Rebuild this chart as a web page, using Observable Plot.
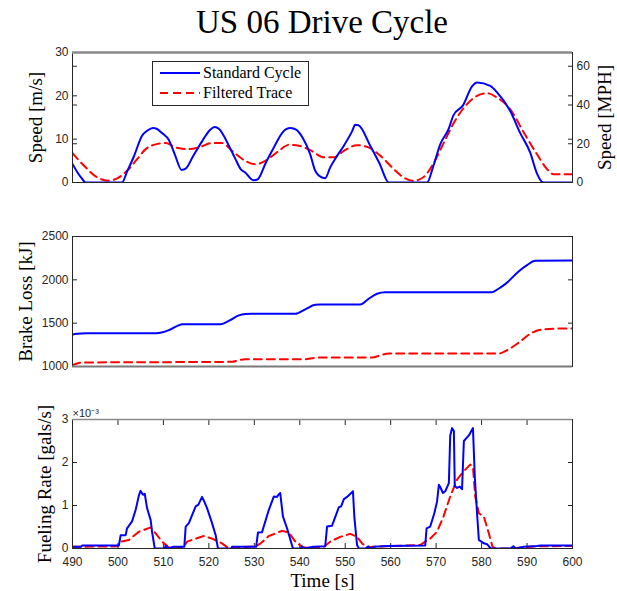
<!DOCTYPE html>
<html><head><meta charset="utf-8">
<script src="https://cdn.jsdelivr.net/npm/d3@7"></script>
<script src="https://cdn.jsdelivr.net/npm/@observablehq/plot@0.6"></script>
<style>
body{margin:0;background:#fff;}
#wrap{position:relative;width:617px;height:591px;overflow:hidden;background:#fff;}
#title{position:absolute;left:72px;top:3px;width:500px;text-align:center;font-family:"Liberation Serif",serif;font-size:33px;line-height:38px;color:#000;}
.panel{position:absolute;left:0;}
#legend{position:absolute;left:152px;top:61px;width:155px;height:43px;border:1px solid #262626;background:#fff;font-family:"Liberation Serif",serif;font-size:16px;color:#000;}
#legend .row{position:absolute;left:0;height:20px;line-height:20px;white-space:nowrap;}
#legend svg{position:absolute;left:7px;top:4px;}
#legend span{position:absolute;left:50px;top:0;}
</style></head><body>
<div id="wrap">
  <div id="title">US 06 Drive Cycle</div>
  <div id="p1" class="panel" style="top:44px"></div>
  <div id="p2" class="panel" style="top:228px"></div>
  <div id="p3" class="panel" style="top:399px"></div>
  <div id="legend"></div>
</div>
<script>
// ---------- data ----------
const seriesNames = ["Standard Cycle", "Filtered Trace"];
const speedStdTime = [490,491,492,492.9,500.9,502,503.5,505.3,506.5,507.7,508.5,509.7,511.2,512.5,514,514.9,516.5,518.5,520.3,521.3,522.2,524.4,525.8,527,528,529.3,529.9,530.8,532.5,534.5,536.1,537,538,539.2,540.6,542.3,543.4,544.9,545.6,546.7,548,549.7,551.5,552.2,552.9,555.5,557.5,559.6,568,569.3,570.9,572.8,573.8,575.9,577.9,579,581.9,583.4,586.3,588.5,590.7,592.1,593.6,600];
const speedStdVal  = [4.3,2.5,1.0,0,0,2.5,6,10.8,12.0,12.6,12.4,11.4,9.8,6.5,2.9,3.2,6,9.5,12.2,12.8,12.4,8.5,5.5,3.1,2.3,0.8,0.5,0.8,4.5,8.5,11.4,12.3,12.6,12.2,10.4,6.5,2.7,1.15,1.0,3.5,5.8,8.5,11.8,13.3,13.2,8.5,4.5,0,0,3.5,8.8,12.5,15.5,17.8,22.2,23.1,22.3,20.8,16.5,11.4,6.9,2.3,0,0];
const speedFltTime = [490,491.5,492.9,495.1,496.5,498,499,500.2,502.4,504.3,506.1,508.3,510.5,512.7,515.6,517.8,520.7,522.9,525.1,528,530.3,532.4,535.4,537.6,539.8,542.4,545.3,547.5,549.7,552.6,555.1,557.7,560.3,562.8,565,567.2,569.5,571.7,573.9,576.8,579,581.2,583.4,586.3,589.3,592.2,594.4,595.8,600];
const speedFltVal  = [6.8,5.0,3.5,1.4,0.7,0.4,0.6,1.2,3.1,5.5,7.7,8.8,9.1,8.1,7.7,8.1,9.1,9.1,7.3,5.0,4.2,5.0,7.3,8.7,8.5,7.4,5.8,5.8,7.3,8.6,8.1,6.2,3.5,1.2,0.4,1.2,4.6,9.2,13.8,18.1,20.0,20.6,19.6,16.9,11.5,6.5,3.1,1.9,1.9];

const brakeStdTime = [490,491,492.9,508.3,509.8,511.2,512.7,514.1,522.6,524.5,526.6,528,529.5,539,541.2,543.4,544.5,553.3,555,557,558.8,582.3,583.8,585.2,588.2,590,591.8,600];
const brakeStdVal  = [1369,1378,1385,1385,1395,1419,1460,1488,1488,1530,1590,1605,1608,1608,1660,1712,1715,1715,1775,1840,1858,1858,1900,1950,2100,2170,2220,2223];
const brakeFltTime = [490,492.1,525.1,526.5,528,541.3,544.2,555.9,557.8,559.6,583.8,586,588.2,591.1,594,597.7,600];
const brakeFltVal  = [1015,1046,1054,1072,1085,1085,1104,1104,1130,1150,1150,1200,1277,1390,1431,1438,1440];

const fuelStdTime = [490,491.9,492.1,500.2,500.6,501.7,502,503.1,503.9,504.6,504.96,505.5,505.9,506.4,507.2,507.5,508.1,510.3,510.5,510.8,512.3,514.6,514.9,515.6,517.1,517.7,518.5,519,519.6,520.7,521.5,522,525,525.1,530.4,530.8,531.7,533.2,534.3,535,535.3,535.7,536.3,537.2,538.5,540.2,540.5,540.8,543,545.6,546,547.1,548.6,549.1,549.7,550.4,551.7,552,552.6,553,554.4,555.1,555.5,556.3,559.2,567.6,567.9,568.7,569.6,570.2,570.6,570.9,571.5,572,572.8,573.1,573.5,573.9,574.1,574.6,575.2,575.7,576.1,577.2,578.1,578.5,579,579.4,580.5,581.2,582,586.3,587,587.5,589.3,592.2,593,600];
const fuelStdVal  = [0.04,0.04,0.07,0.07,0.31,0.31,0.47,0.63,0.9,1.23,1.34,1.25,1.27,0.94,0.66,0.39,0,0,0.07,0,0.04,0.04,0.51,0.59,0.98,1.02,1.2,1.09,0.94,0.59,0.31,0,0,0.04,0.04,0.37,0.38,0.9,1.21,1.2,1.25,1.29,0.74,0.47,0,0,0.05,0,0.04,0.05,0.51,0.53,0.96,0.98,1.15,1.2,1.33,0.74,0.08,0,0,0.05,0,0.04,0.06,0.07,0.47,0.51,0.82,1.09,1.48,1.43,1.29,1.33,1.52,2.62,2.8,2.73,1.45,1.41,1.44,1.38,2.5,2.63,2.8,1.68,0.82,0.2,0.12,0.1,0,0,0.05,0,0.04,0.06,0.07,0.07];
const fuelFltTime = [490,500,500.6,502.4,504.6,507.2,508.3,509.7,511.2,512.7,514.5,515.2,517.1,518.9,520.7,522.9,524.4,525.9,530.3,531.4,533.2,536.1,537.6,539,540.5,542,545.3,546.7,548.9,551.1,552.6,553.7,554.9,556,559.2,566.5,567.6,568.7,570.2,571.6,573.1,574.6,576.1,577.5,578.1,578.6,579.4,580.5,581.6,582.4,583.1,586.3,589.3,592.2,599.3,600];
const fuelFltVal  = [0.04,0.05,0.16,0.2,0.39,0.49,0.35,0.16,0.02,0,0.04,0.16,0.23,0.29,0.23,0.12,0,0.02,0.05,0.12,0.29,0.41,0.37,0.16,0.04,0,0.04,0.16,0.27,0.34,0.27,0.12,0.02,0.04,0.05,0.08,0.16,0.23,0.39,0.74,1.21,1.6,1.8,1.95,1.9,1.21,0.82,0.74,0.35,0.04,0,0,0.03,0.05,0.06,0.06];

const timeTicks  = [490,500,510,520,530,540,550,560,570,580,590,600];
const speedTicks = [0,10,20,30];
const mphTicks   = [0,20,40,60];
const brakeTicks = [1000,1500,2000,2500];
const fuelTicks  = [0,1,2,3];

// ---------- helpers ----------
const BLUE = "#0000ff", RED = "#ff0000", AX = "#262626";
const MPS_PER_MPH = 0.44704;
const zip = (ts, vs) => ts.map((t, i) => ({t, v: vs[i]}));
const W = 617, ML = 72, MR = 45;
const serif = "Liberation Serif";
const intFmt = d => String(Math.round(d));

function lines(std, flt, curve) {
  return [
    Plot.line(flt, {x: "t", y: "v", stroke: RED, strokeWidth: 2, strokeDasharray: "8,5", curve, clip: true}),
    Plot.line(std, {x: "t", y: "v", stroke: BLUE, strokeWidth: 2, curve, clip: true})
  ];
}
function yTicksBoth(ticks, labelSide, fmt = intFmt) {
  const other = labelSide === "left" ? "right" : "left";
  return [
    Plot.axisY(ticks, {anchor: labelSide, tickSize: -5, tickPadding: 9, tickFormat: fmt, label: null}),
    Plot.axisY(ticks, {anchor: other, tickSize: -5, tickFormat: () => "", label: null})
  ];
}
function yLabel(text, dx, side = "left") {
  return Plot.text([text], {frameAnchor: side, dx, rotate: -90, fontFamily: serif, fontSize: 19, fill: "#000", textAnchor: "middle", lineAnchor: "middle"});
}
const baseStyle = {fontFamily: "Liberation Sans", fontSize: "12px", color: AX, background: "transparent", overflow: "visible"};

// ---------- panel 1: speed ----------
const p1 = Plot.plot({
  width: W, height: 146, marginLeft: ML, marginRight: MR, marginTop: 8, marginBottom: 8,
  style: baseStyle,
  x: {domain: [490, 600], axis: null},
  y: {domain: [0, 30]},
  marks: [
    ...yTicksBoth(speedTicks, "left"),
    ...yTicksBoth(mphTicks.map(m => m * MPS_PER_MPH), "right", d => String(Math.round(d / MPS_PER_MPH))),
    ...lines(zip(speedStdTime, speedStdVal), zip(speedFltTime, speedFltVal), "monotone-x"),
    Plot.frame({stroke: AX}),
    Plot.ruleY([30], {stroke: "#8a8a8a", strokeWidth: 2.5}),
    yLabel("Speed [m/s]", -37),
    yLabel("Speed [MPH]", 32, "right")
  ]
});
document.getElementById("p1").append(p1);

// ---------- panel 2: brake loss ----------
const p2 = Plot.plot({
  width: W, height: 146, marginLeft: ML, marginRight: MR, marginTop: 8, marginBottom: 8,
  style: baseStyle,
  x: {domain: [490, 600], axis: null},
  y: {domain: [1000, 2500]},
  marks: [
    ...yTicksBoth(brakeTicks, "left"),
    ...lines(zip(brakeStdTime, brakeStdVal), zip(brakeFltTime, brakeFltVal), "monotone-x"),
    Plot.frame({stroke: AX}),
    Plot.ruleY([1000], {stroke: "#7a7a7a", strokeWidth: 2}),
    yLabel("Brake Loss [kJ]", -47)
  ]
});
document.getElementById("p2").append(p2);

// ---------- panel 3: fueling rate ----------
const p3 = Plot.plot({
  width: W, height: 189, marginLeft: ML, marginRight: MR, marginTop: 20, marginBottom: 40,
  style: baseStyle,
  x: {domain: [490, 600]},
  y: {domain: [0, 3]},
  marks: [
    ...yTicksBoth(fuelTicks, "left"),
    Plot.axisX(timeTicks, {anchor: "bottom", tickSize: -5, tickPadding: 14, tickFormat: intFmt, label: null}),
    Plot.axisX(timeTicks, {anchor: "top", tickSize: -5, tickFormat: () => "", label: null}),
    ...lines(zip(fuelStdTime, fuelStdVal), zip(fuelFltTime, fuelFltVal), "linear"),
    Plot.frame({stroke: AX}),
    Plot.ruleY([3], {stroke: "#8a8a8a", strokeWidth: 1.5}),
    Plot.text(["×10⁻³"], {frameAnchor: "top-left", dy: -10, textAnchor: "start", fontFamily: "Liberation Sans", fontSize: 11, fill: AX}),
    Plot.text(["Time [s]"], {frameAnchor: "bottom", dy: 32, fontFamily: serif, fontSize: 19, fill: "#000", lineAnchor: "middle"}),
    yLabel("Fueling Rate [gals/s]", -28)
  ]
});
document.getElementById("p3").append(p3);

// ---------- legend ----------
const leg = document.getElementById("legend");
seriesNames.forEach((name, i) => {
  const row = document.createElement("div");
  row.className = "row";
  row.style.top = (i === 0 ? 1 : 21) + "px";
  row.style.width = "155px";
  const dash = i === 0 ? "" : `stroke-dasharray="8,5"`;
  row.innerHTML = `<svg width="42" height="12"><line x1="0" y1="6" x2="40" y2="6" stroke="${i === 0 ? BLUE : RED}" stroke-width="2" ${dash}/></svg><span>${name}</span>`;
  leg.append(row);
});
</script>
</body></html>
